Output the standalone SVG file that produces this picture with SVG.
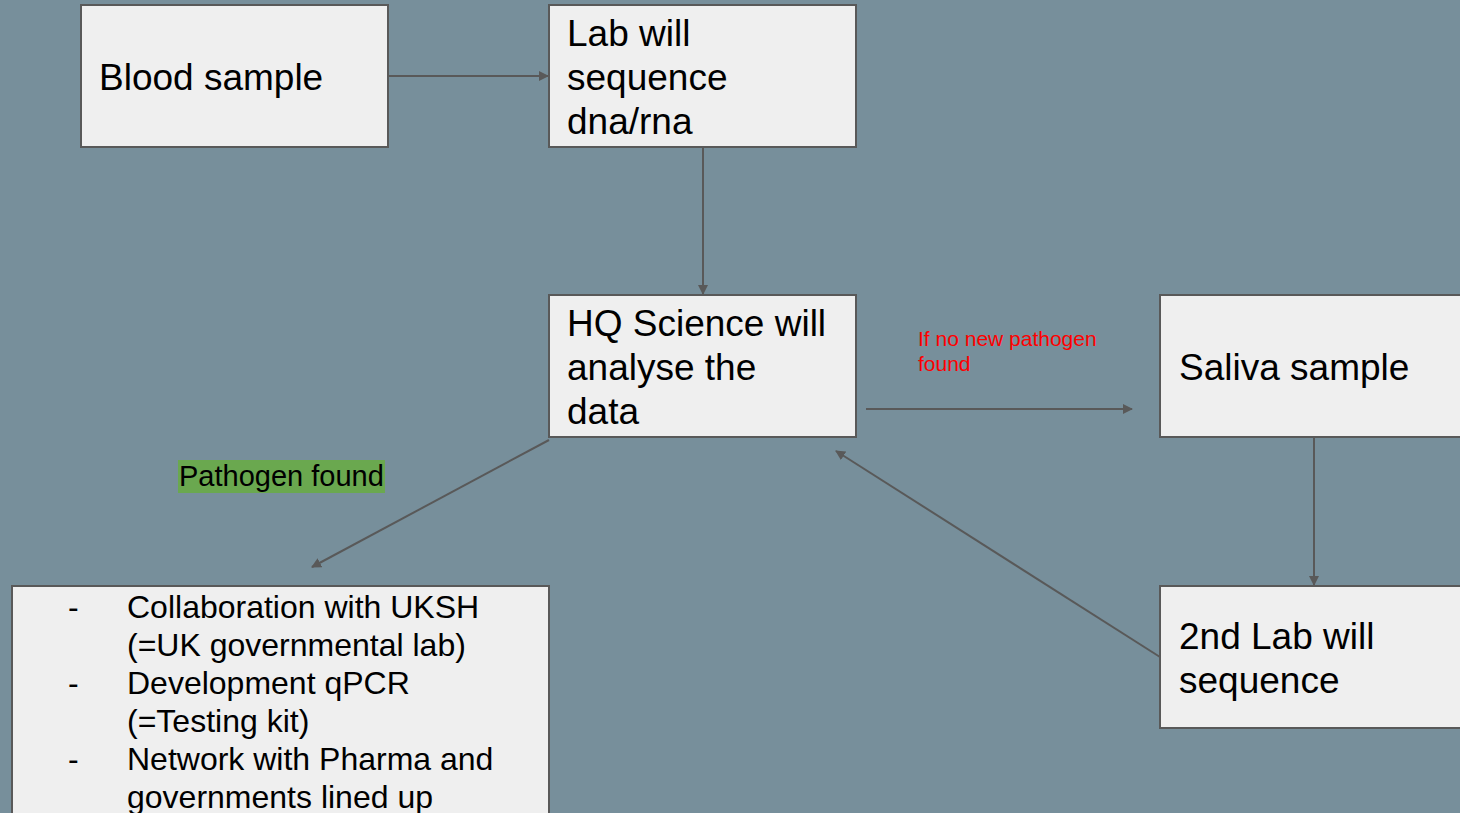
<svg xmlns="http://www.w3.org/2000/svg" width="1460" height="813" viewBox="0 0 1460 813">
<style>
.box{fill:#efefef;stroke:#595959;stroke-width:2}
.t{font-family:"Liberation Sans",Arial,sans-serif;font-size:37px;fill:#000}
.s{font-family:"Liberation Sans",Arial,sans-serif;font-size:32px;fill:#000}
.c{stroke:#595959;stroke-width:2;fill:none;marker-end:url(#ah)}
</style>
<defs>
<marker id="ah" viewBox="0 0 10 10" refX="9" refY="5" markerWidth="5" markerHeight="5" orient="auto" markerUnits="strokeWidth">
<path d="M0,0 L10,5 L0,10 z" fill="#595959"/>
</marker>
</defs>
<rect width="1460" height="813" fill="#778f9b"/>
<g id="connectors">
<line class="c" x1="389" y1="76" x2="548" y2="76"/>
<line class="c" x1="703" y1="147" x2="703" y2="294"/>
<line class="c" x1="866" y1="409" x2="1132" y2="409"/>
<line class="c" x1="549" y1="440" x2="312" y2="567"/>
<line class="c" x1="1160" y1="657" x2="836" y2="451"/>
<line class="c" x1="1314" y1="437" x2="1314" y2="585"/>
</g>
<g id="blood">
<rect class="box" x="81" y="5" width="307" height="142"/>
<text class="t" x="99" y="90">Blood sample</text>
</g>
<g id="lab">
<rect class="box" x="549" y="5" width="307" height="142"/>
<text class="t" x="567" y="46">Lab will</text>
<text class="t" x="567" y="90">sequence</text>
<text class="t" x="567" y="134">dna/rna</text>
</g>
<g id="hq">
<rect class="box" x="549" y="295" width="307" height="142"/>
<text class="t" x="567" y="336">HQ Science will</text>
<text class="t" x="567" y="380">analyse the</text>
<text class="t" x="567" y="424">data</text>
</g>
<g id="saliva">
<rect class="box" x="1160" y="295" width="310" height="142"/>
<text class="t" x="1179" y="380">Saliva sample</text>
</g>
<g id="lab2">
<rect class="box" x="1160" y="586" width="310" height="142"/>
<text class="t" x="1179" y="649">2nd Lab will</text>
<text class="t" x="1179" y="693">sequence</text>
</g>
<g id="outcome">
<rect class="box" x="12" y="586" width="537" height="240"/>
<text class="s" x="68" y="618">-</text>
<text class="s" x="127" y="618">Collaboration with UKSH</text>
<text class="s" x="127" y="656">(=UK governmental lab)</text>
<text class="s" x="68" y="694">-</text>
<text class="s" x="127" y="694">Development qPCR</text>
<text class="s" x="127" y="732">(=Testing kit)</text>
<text class="s" x="68" y="770">-</text>
<text class="s" x="127" y="770">Network with Pharma and</text>
<text class="s" x="127" y="808">governments lined up</text>
</g>
<g id="label-found">
<rect x="178" y="460" width="207" height="33" fill="#6aa84f"/>
<text x="179" y="486" style="font-family:'Liberation Sans',Arial,sans-serif;font-size:29px;fill:#000">Pathogen found</text>
</g>
<g id="label-notfound">
<text x="918" y="346" style="font-family:'Liberation Sans',Arial,sans-serif;font-size:21px;fill:#ff0000">If no new pathogen</text>
<text x="918" y="371" style="font-family:'Liberation Sans',Arial,sans-serif;font-size:21px;fill:#ff0000">found</text>
</g>
</svg>
